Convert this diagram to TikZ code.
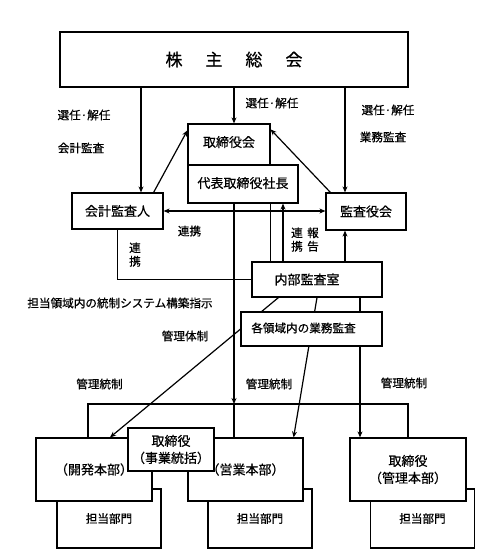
\documentclass[tikz,border=0pt]{standalone}
\usepackage{fontspec}
\setmainfont{Noto Sans CJK JP}[FakeBold=0.6]
\usetikzlibrary{arrows.meta}

\begin{document}
\begin{tikzpicture}[x=1pt,y=-1pt,line width=1.2pt,
    box/.style={draw,fill=white,inner sep=0pt,align=center,font=\fontsize{13}{17}\selectfont},
    small/.style={font=\fontsize{11.6}{14}\selectfont},
    lbl/.style={inner sep=0pt,align=center,font=\fontsize{11.6}{13.5}\selectfont},
    arr/.style={-{Stealth[length=6pt,width=5pt]}},
    dbl/.style={{Stealth[length=6pt,width=5pt]}-{Stealth[length=6pt,width=5pt]}}]
    \useasboundingbox (0,0) rectangle (486,560);
    % upper part
    \node[box,minimum width=348,minimum height=55] (meeting) at (234,59.5)
        {\fontsize{17}{20}\selectfont 株\hspace{23pt}主\hspace{23pt}総\hspace{23pt}会};
    \node[box,minimum width=82,minimum height=41] (board) at (229,144.5) {\raisebox{6pt}{取締役会}};
    \node[box,minimum width=110,minimum height=38] (pres) at (243,184) {\raisebox{3pt}{代表取締役社長}};
    \node[box,minimum width=91,minimum height=36] (kaikei) at (117.5,211) {会計監査人};
    \node[box,minimum width=80,minimum height=37] (kansa) at (366,211.5) {監査役会};
    \node[box,minimum width=130,minimum height=35] (naibu) at (317,279.5) {内部監査室\hspace*{20pt}};
    % lower part
    \foreach \x/\n in {109/1,260/2,422.5/3}
        \node[box,small,minimum width=104,minimum height=59] (tanto\n) at (\x,518.5) {担当部門};
    \node[box,minimum width=116,minimum height=63] (kaihatsu) at (94,469.5) {（開発本部）};
    \node[box,minimum width=115,minimum height=63] (eigyo) at (245.5,469.5) {（営業本部）};
    \node[box,minimum width=116,minimum height=63] (kanri) at (408,469.5) {取締役\\（管理本部）};
    \node[box,minimum width=86,minimum height=43] (jigyo) at (171,449.5) {取締役\\（事業統括）};
    % x positions of the vertical connectors
    \coordinate (xa) at (141,0);
    \coordinate (xk) at (345,0);
    \coordinate (xr) at (283,0);
    \coordinate (xm) at (360,0);
    \coordinate (bar) at (234,404);
    % connectors
    \draw[arr] (meeting.south -| xa) -- (kaikei.north -| xa);
    \draw[arr] (meeting.south) -- (meeting.south |- board.north);
    \draw[arr] (meeting.south -| xk) -- (kansa.north -| xk);
    \draw[arr] ([xshift=-10pt]kaikei.north east) -- ([yshift=-7pt]board.north west);
    \draw[arr] ([xshift=5pt]kansa.north west) -- ([yshift=-6pt]board.north east);
    \draw[dbl] (kaikei.east) -- (kaikei.east -| kansa.west);
    \draw (kaikei.south) |- (naibu.west);
    \draw (pres.south -| board.east) -- (naibu.north -| board.east);
    \draw[arr] (naibu.north -| xr) -- (pres.south -| xr);
    \draw[arr] (naibu.north -| xk) -- (kansa.south -| xk);
    \draw[arr] (pres.south -| bar) -- (bar);
    \draw ([xshift=-6pt]kaihatsu.north) |- (bar) -| (kanri.north);
    \draw (bar) -- (bar |- eigyo.north);
    \draw[arr] ([xshift=27pt]naibu.south west) -- ([xshift=16pt]kaihatsu.north);
    \draw[arr] (naibu.south) -- ([xshift=-10pt]eigyo.north east);
    \draw[arr] (naibu.south -| xm) -- (kanri.north -| xm);
    % box on top of the lines
    \node[box,small,minimum width=141,minimum height=34] (gyomu) at (311.5,329)
        {\raisebox{3pt}{各領域内の業務監査}\hspace*{16pt}};
    % labels
    \node[lbl] (sel1) at (84,115) {選任·解任};
    \node[lbl] (audit1) at (81,148) {会計監査};
    \node[lbl] (sel2) at (272,103) {選任·解任};
    \node[lbl] (sel3) at (388,110) {選任·解任};
    \node[lbl] (audit2) at (383,137) {業務監査};
    \node[lbl] (coop1) at (189.5,231) {連携};
    \node[lbl] (coop2) at (135,254.5) {連\\携};
    \node[lbl] (coop3) at (297,239.5) {連\\携};
    \node[lbl] (report) at (313,239.5) {報\\告};
    \node[lbl] (order) at (120,303) {担当領域内の統制システム構築指示};
    \node[lbl] (system) at (185,336) {管理体制};
    \node[lbl] (ctrl1) at (99.5,384) {管理統制};
    \node[lbl] (ctrl2) at (269,384) {管理統制};
    \node[lbl] (ctrl3) at (404,383) {管理統制};
\end{tikzpicture}
\end{document}
